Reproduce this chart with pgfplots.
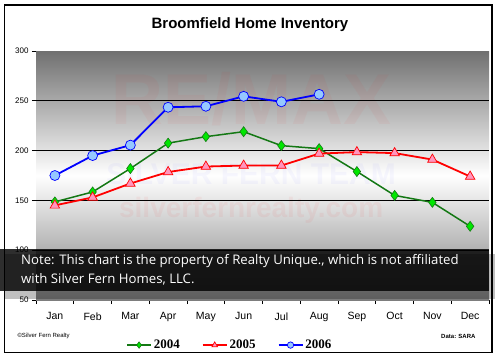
\documentclass[border=0pt]{standalone}
\usepackage{fontspec}
\setmainfont{Liberation Sans}
\newfontfamily\legfont{Liberation Serif}
\newfontfamily\notefont{Open Sans}
\usepackage{pgfplots}
\pgfplotsset{compat=1.18}
\definecolor{bggray}{RGB}{112,112,112}
\definecolor{bggray2}{RGB}{125,125,125}
\definecolor{dgreen}{RGB}{20,120,20}
\definecolor{lgreen}{RGB}{0,230,0}
\definecolor{pinkm}{RGB}{255,150,190}
\definecolor{lblue}{RGB}{150,200,255}
\begin{document}
\begin{tikzpicture}
\path[use as bounding box] (0pt,0pt) rectangle (500pt,357pt);
\fill[white] (0pt,0pt) rectangle (500pt,357pt);
\begin{axis}[
  at={(36pt,57pt)}, anchor=south west,
  scale only axis, width=453pt, height=249pt,
  xmin=-0.5, xmax=11.5, ymin=50, ymax=300,
  axis lines*=left,
  axis line style={black, line width=1pt},
  xtick={0,...,11},
  xticklabels={Jan,Feb,Mar,Apr,May,Jun,Jul,Aug,Sep,Oct,Nov,Dec},
  major x tick style={draw=none},
  minor xtick={-0.5,0.5,...,11.5},
  minor x tick style={black, line width=0.8pt},
  minor tick length=4pt,
  ytick={50,100,...,300},
  major y tick style={black, line width=0.8pt},
  major tick length=4pt,
  tick align=outside,
  x tick label style={font=\fontsize{10.5}{12}\selectfont, yshift=-5pt},
  y tick label style={font=\fontsize{8}{9}\selectfont},
  /pgf/number format/assume math mode=true,
  clip=false,
  legend columns=3,
  legend style={at={(0.428,-0.181)}, anchor=center, draw=none, fill=none,
    font=\legfont\bfseries\fontsize{13}{14}\selectfont,
    /tikz/every even column/.append style={column sep=20pt}},
  legend image code/.code={
    \draw[mark repeat=2, mark phase=2, mark size=3.2pt] plot coordinates {(0pt,0pt) (12pt,0pt) (24pt,0pt)};},
]
\fill[top color=bggray, bottom color=bggray2, middle color=white] (rel axis cs:0,0) rectangle (rel axis cs:1,1);
% watermark
\node[text=red, opacity=0.04, font=\bfseries\fontsize{72}{72}\selectfont] at (axis cs:5.2,252) {RE/MAX};
\node[text=blue, opacity=0.03, font=\bfseries\fontsize{30}{30}\selectfont] at (axis cs:5.2,176) {SILVER FERN TEAM};
\node[text=red, opacity=0.05, font=\bfseries\fontsize{28}{28}\selectfont] at (axis cs:5.2,140) {silverfernrealty.com};
\draw[black, line width=0.8pt] (axis cs:-0.5,100) -- (axis cs:11.5,100);
\draw[black, line width=0.8pt] (axis cs:-0.5,150) -- (axis cs:11.5,150);
\draw[black, line width=0.8pt] (axis cs:-0.5,200) -- (axis cs:11.5,200);
\draw[black, line width=0.8pt] (axis cs:-0.5,250) -- (axis cs:11.5,250);
\addplot[dgreen, line width=1.5pt, mark=diamond*, mark size=5pt, mark options={fill=lgreen, draw=dgreen, line width=0.6pt}]
 coordinates {(0,148.5) (1,158.5) (2,182) (3,207.5) (4,214) (5,219) (6,205) (7,202) (8,179) (9,155) (10,148) (11,124)};
\addlegendentry{2004}
\addplot[red, line width=1.8pt, mark=triangle*, mark size=5.5pt, mark options={fill=pinkm, draw=red, line width=0.7pt}]
 coordinates {(0,145) (1,153) (2,167) (3,178.5) (4,184) (5,185) (6,185) (7,197) (8,198.5) (9,197.5) (10,191) (11,174)};
\addlegendentry{2005}
\addplot[blue, line width=1.8pt, mark=*, mark size=5pt, mark options={fill=lblue, draw=blue, line width=0.7pt}]
 coordinates {(0,175) (1,195) (2,205.5) (3,243.5) (4,244.5) (5,254.5) (6,249) (7,256.5)};
\addlegendentry{2006}
\end{axis}
% note overlay
\fill[black, opacity=0.25] (4pt,58pt) rectangle (495pt,103pt);
\fill[black, opacity=0.82] (0pt,66pt) rectangle (489pt,108pt);
\node[anchor=north west, text=white, align=left, font=\notefont\fontsize{13.2}{19}\selectfont, inner sep=0pt] at (21pt,103pt)
 {Note: This chart is the property of Realty Unique., which is not affiliated\\with Silver Fern Homes, LLC.};
% title and footnotes
\node[font=\bfseries\fontsize{15}{16}\selectfont] at (250pt,332pt) {Broomfield Home Inventory};
\node[anchor=west, font=\fontsize{6}{7}\selectfont] at (14pt,21pt) {\textcopyright Silver Fern Realty};
\node[anchor=east, font=\bfseries\fontsize{6}{7}\selectfont] at (479pt,21pt) {Data: SARA};
\draw[black, line width=1.3pt] (4.5pt,4.5pt) rectangle (492pt,352pt);
\end{tikzpicture}
\end{document}
